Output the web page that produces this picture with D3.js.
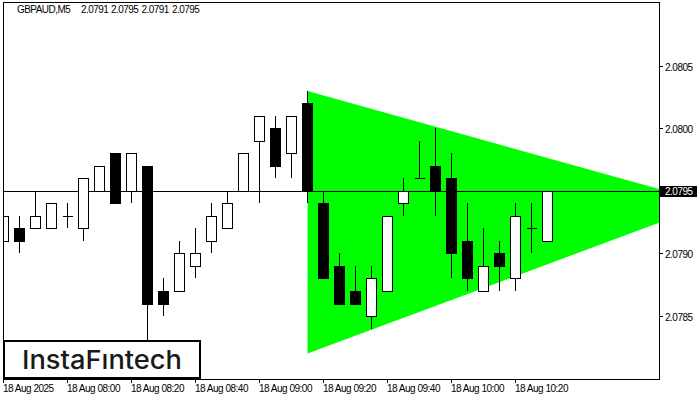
<!DOCTYPE html>
<html>
<head>
<meta charset="utf-8">
<script src="https://cdn.jsdelivr.net/npm/d3@7"></script>
<style>
  html, body { margin: 0; padding: 0; background: #fff; }
  svg { display: block; }
  .lbl { font-family: "Liberation Sans", Arial, sans-serif; font-size: 10px; letter-spacing: -0.5px; fill: #000; }
  .ttl { font-family: "Liberation Sans", Arial, sans-serif; font-size: 10px; letter-spacing: -0.55px; fill: #000; }
</style>
</head>
<body>
<svg id="chart" width="700" height="400"></svg>
<script>
// ---- data ----
const symbolName = "GBPAUD,M5";
const opens  = [2.0791,2.0792,2.0792,2.0792,2.0793,2.0792,2.0795,2.0798,2.0795,2.0797,2.0787,2.0787,2.0789,2.0791,2.0792,2.0795,2.0799,2.0800,2.0798,2.0802,2.0794,2.0789,2.0787,2.0785,2.0787,2.0794,2.0796,2.0797,2.0796,2.0791,2.0787,2.0790,2.0788,2.0792,2.0791];
const highs  = [2.0793,2.0793,2.0795,2.0794,2.0794,2.0796,2.0797,2.0798,2.0798,2.0797,2.0788,2.0791,2.0792,2.0794,2.0795,2.0798,2.0801,2.0801,2.0801,2.0803,2.0795,2.0790,2.0789,2.0789,2.0793,2.0796,2.0799,2.0800,2.0798,2.0794,2.0792,2.0791,2.0794,2.0794,2.0795];
const lows   = [2.0789,2.0790,2.0792,2.0792,2.0792,2.0791,2.0795,2.0794,2.0794,2.0783,2.0785,2.0787,2.0788,2.0790,2.0792,2.0795,2.0794,2.0796,2.0796,2.0794,2.0788,2.0786,2.0786,2.0784,2.0787,2.0793,2.0796,2.0793,2.0788,2.0787,2.0787,2.0787,2.0787,2.0790,2.0791];
const closes = [2.0793,2.0791,2.0793,2.0794,2.0793,2.0796,2.0797,2.0794,2.0798,2.0786,2.0786,2.0790,2.0790,2.0793,2.0794,2.0798,2.0801,2.0797,2.0801,2.0795,2.0788,2.0786,2.0786,2.0788,2.0793,2.0795,2.0796,2.0795,2.0790,2.0788,2.0789,2.0789,2.0793,2.0792,2.0795];
const timeTickIndex  = [0, 4, 8, 12, 16, 20, 24, 28, 32];
const timeTickLabels = ["18 Aug 2025","18 Aug 08:00","18 Aug 08:20","18 Aug 08:40","18 Aug 09:00","18 Aug 09:20","18 Aug 09:40","18 Aug 10:00","18 Aug 10:20"];
const priceTicks = [2.0785, 2.0790, 2.0800, 2.0805];
const currentPrice = 2.0795;
// symmetric triangle pattern: [bar index, price]
const triangle = [[19, 2.0803], [44.2, 2.0794], [19, 2.0782]];
const logoText = "InstaF\u0131ntech";

// ---- layout ----
const L = 3, R = 659, T = 2, B = 379;
const svg = d3.select("#chart");
const x = d3.scaleLinear().domain([0, 41]).range([3.5, 659.5]);
const y = d3.scaleLinear().domain([2.0785, 2.0805]).range([316, 66]);

svg.append("defs").append("clipPath").attr("id", "plotclip")
  .append("rect").attr("x", L).attr("y", T).attr("width", R - L).attr("height", B - T);

const plot = svg.append("g").attr("clip-path", "url(#plotclip)");

// triangle
plot.append("path")
  .attr("d", d3.line().x(d => x(d[0])).y(d => y(d[1]))(triangle) + "Z")
  .attr("fill", "#00ff00");

// current price line
plot.append("line")
  .attr("x1", L).attr("x2", R)
  .attr("y1", Math.round(y(currentPrice)) + 0.5).attr("y2", Math.round(y(currentPrice)) + 0.5)
  .attr("stroke", "#000").attr("stroke-width", 1);

// candles
const bars = opens.map((o, i) => ({ i, o, h: highs[i], l: lows[i], c: closes[i] }));
const g = plot.append("g").attr("shape-rendering", "crispEdges");
bars.forEach(d => {
  const cx = Math.floor(x(d.i)) + 0.5;
  const yh = Math.round(y(d.h)), yl = Math.round(y(d.l));
  const yo = Math.round(y(d.o)), yc = Math.round(y(d.c));
  g.append("line").attr("x1", cx).attr("x2", cx).attr("y1", yh).attr("y2", yl)
    .attr("stroke", "#000").attr("stroke-width", 1);
  if (yo === yc) {
    g.append("line").attr("x1", cx - 5).attr("x2", cx + 5).attr("y1", yo + 0.5).attr("y2", yo + 0.5)
      .attr("stroke", "#000").attr("stroke-width", 1);
  } else {
    const top = Math.min(yo, yc), bot = Math.max(yo, yc);
    g.append("rect").attr("x", cx - 5).attr("y", top + 0.5).attr("width", 10).attr("height", bot - top)
      .attr("fill", d.c > d.o ? "#fff" : "#000")
      .attr("stroke", "#000").attr("stroke-width", 1);
  }
});

// frame
svg.append("rect").attr("x", L + 0.5).attr("y", T + 0.5).attr("width", R - L).attr("height", B - T)
  .attr("fill", "none").attr("stroke", "#000").attr("stroke-width", 1).attr("shape-rendering", "crispEdges");

// title: symbol + OHLC of the last bar
const last = bars[bars.length - 1];
const titleTokens = [symbolName, last.o.toFixed(4), last.h.toFixed(4), last.l.toFixed(4), last.c.toFixed(4)];
const titleX = [17, 81, 111, 141.5, 172];
const title = svg.append("text").attr("class", "ttl").attr("y", 13);
titleTokens.forEach((t, k) => {
  title.append("tspan").attr("x", titleX[k]).text(t);
});

// right axis
const ya = svg.append("g");
priceTicks.forEach(p => {
  const yy = Math.round(y(p)) + 0.5;
  ya.append("line").attr("x1", R).attr("x2", R + 4).attr("y1", yy).attr("y2", yy).attr("stroke", "#000");
  ya.append("text").attr("class", "lbl").attr("x", 665).attr("y", yy + 4).text(p.toFixed(4));
});
// current price label
const yc0 = Math.round(y(currentPrice));
ya.append("rect").attr("x", R + 1).attr("y", yc0 - 5).attr("width", 37).attr("height", 11).attr("fill", "#000");
ya.append("text").attr("class", "lbl").attr("x", 665).attr("y", yc0 + 4).style("fill", "#fff").text(currentPrice.toFixed(4));

// bottom axis
timeTickIndex.forEach((ti, k) => {
  const xx = Math.floor(x(ti)) + 0.5;
  svg.append("line").attr("x1", xx).attr("x2", xx).attr("y1", B).attr("y2", B + 4).attr("stroke", "#000");
  svg.append("text").attr("class", "lbl").attr("x", xx - 0.5).attr("y", 392).text(timeTickLabels[k]);
});

// logo
svg.append("rect").attr("x", 4).attr("y", 341).attr("width", 196).attr("height", 37)
  .attr("fill", "#fff").attr("stroke", "#000").attr("stroke-width", 2);
svg.append("text").attr("x", 22).attr("y", 369)
  .attr("font-family", "Inter, 'Noto Sans', sans-serif").attr("font-size", 26).attr("font-weight", 500)
  .attr("fill", "#1a1a1a").attr("textLength", 160).attr("lengthAdjust", "spacingAndGlyphs")
  .text(logoText);
</script>
</body>
</html>
